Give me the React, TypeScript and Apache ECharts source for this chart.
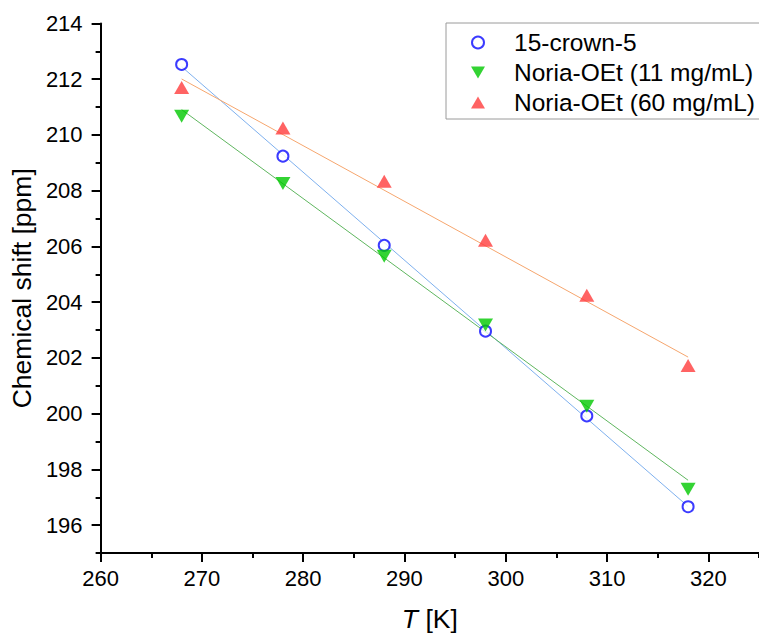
import React, { useEffect, useRef } from "react";
import * as echarts from "echarts";

const temps = [268, 278, 288, 298, 308, 318];
const crown = [212.53, 209.24, 206.04, 202.96, 199.92, 196.66];
const noria11 = [210.67, 208.26, 205.65, 203.18, 200.27, 197.29];
const noria60 = [211.7, 210.25, 208.34, 206.22, 204.25, 201.73];

const fitT = [268, 318];
const crownFit = [212.45, 196.67];
const noria11Fit = [210.91, 197.61];
const noria60Fit = [212.01, 202.03];

const xMajor = [260, 270, 280, 290, 300, 310, 320];
const xMinor = [265, 275, 285, 295, 305, 315, 325];
const yMajor = [196, 198, 200, 202, 204, 206, 208, 210, 212, 214];
const yMinor = [195, 197, 199, 201, 203, 205, 207, 209, 211, 213];

const names = ["15-crown-5", "Noria-OEt (11 mg/mL)", "Noria-OEt (60 mg/mL)"];

const FONT = "'Liberation Sans', Arial, sans-serif";

const pairs = (xs: number[], ys: number[]) => xs.map((x, i) => [x, ys[i]]);

export default function App() {
  const ref = useRef<HTMLDivElement>(null);
  useEffect(() => {
    if (!ref.current) return;
    const chart = echarts.init(ref.current, null, { renderer: "svg" });
    const xBase = {
      type: "value",
      min: 260,
      max: 325,
      splitLine: { show: false },
      axisLine: { show: true, lineStyle: { color: "#000", width: 2 } },
    };
    const yBase = {
      type: "value",
      min: 195,
      max: 214,
      splitLine: { show: false },
      axisLine: { show: true, lineStyle: { color: "#000", width: 2 } },
    };
    chart.setOption({
      animation: false,
      backgroundColor: "#fff",
      textStyle: { fontFamily: FONT },
      grid: { left: 100, top: 23.5, right: -2, bottom: 82 },
      legend: {
        data: [
          { name: names[0], icon: "circle" },
          { name: names[1], icon: "path://M0,0L14,0L7,12Z" },
          { name: names[2], icon: "path://M7,0L14,12L0,12Z" },
        ],
        orient: "vertical",
        left: 446,
        top: 23,
        width: 330,
        borderColor: "#9a9a9a",
        borderWidth: 1,
        padding: [7, 20, 4, 25],
        itemGap: 5,
        itemWidth: 30,
        itemHeight: 12,
        textStyle: {
          fontFamily: FONT,
          fontSize: 24.5,
          color: "#000",
          lineHeight: 25,
          padding: [0, 0, 0, 16],
        },
      },
      xAxis: [
        {
          ...xBase,
          name: "{i|T} [K]",
          nameLocation: "middle",
          nameGap: 52,
          nameTextStyle: {
            fontFamily: FONT,
            fontSize: 26.5,
            color: "#000",
            rich: { i: { fontStyle: "italic", fontSize: 26.5, fontFamily: FONT, color: "#000" } },
          },
          axisTick: { show: true, customValues: xMajor, length: 9, lineStyle: { color: "#000", width: 2 } },
          axisLabel: { show: true, customValues: xMajor, margin: 14, fontSize: 22, color: "#000", fontFamily: FONT },
        },
        {
          ...xBase,
          position: "bottom",
          axisLine: { show: false },
          axisTick: { show: true, customValues: xMinor, length: 5, lineStyle: { color: "#000", width: 2 } },
          axisLabel: { show: false },
        },
      ],
      yAxis: [
        {
          ...yBase,
          name: "Chemical shift [ppm]",
          nameLocation: "middle",
          nameGap: 62,
          nameTextStyle: { fontFamily: FONT, fontSize: 26.5, color: "#000" },
          axisTick: { show: true, customValues: yMajor, length: 9, lineStyle: { color: "#000", width: 2 } },
          axisLabel: { show: true, customValues: yMajor, margin: 18, fontSize: 22, color: "#000", fontFamily: FONT },
        },
        {
          ...yBase,
          position: "left",
          axisLine: { show: false },
          axisTick: { show: true, customValues: yMinor, length: 5, lineStyle: { color: "#000", width: 2 } },
          axisLabel: { show: false },
        },
      ],
      series: [
        {
          name: "fit-crown",
          type: "line",
          data: pairs(fitT, crownFit),
          symbol: "none",
          lineStyle: { color: "#7eb0ee", width: 1 },
          z: 1,
        },
        {
          name: "fit-11",
          type: "line",
          data: pairs(fitT, noria11Fit),
          symbol: "none",
          lineStyle: { color: "#5fb65f", width: 1 },
          z: 1,
        },
        {
          name: "fit-60",
          type: "line",
          data: pairs(fitT, noria60Fit),
          symbol: "none",
          lineStyle: { color: "#f6a66e", width: 1 },
          z: 1,
        },
        {
          name: names[0],
          type: "scatter",
          data: pairs(temps, crown),
          symbol: "circle",
          symbolSize: 11,
          itemStyle: { color: "#fff", borderColor: "#0a0aff", borderWidth: 2 },
          z: 3,
        },
        {
          name: names[1],
          type: "scatter",
          data: pairs(temps, noria11),
          symbol: "triangle",
          symbolRotate: 180,
          symbolSize: [15, 13],
          itemStyle: { color: "#00c800" },
          z: 3,
        },
        {
          name: names[2],
          type: "scatter",
          data: pairs(temps, noria60),
          symbol: "triangle",
          symbolSize: [15, 13],
          itemStyle: { color: "#ff3c3c" },
          z: 3,
        },
      ],
    });
    return () => chart.dispose();
  }, []);
  return (
    <div
      ref={ref}
      style={{ position: "fixed", left: 0, top: 0, width: 759, height: 637, background: "#fff" }}
    />
  );
}
